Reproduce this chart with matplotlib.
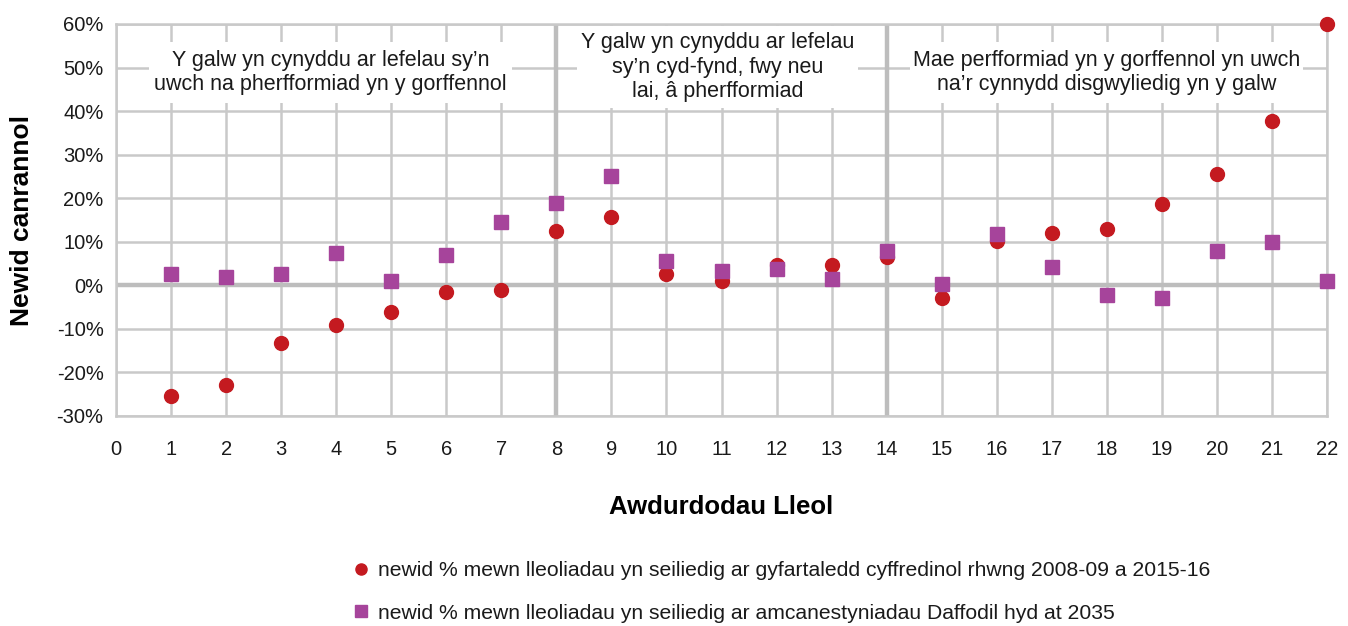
import matplotlib
matplotlib.use("Agg")
import matplotlib.pyplot as plt
from matplotlib.patches import Rectangle

# local authorities 1..22, percentage change
authorities = list(range(1, 23))
avg_change = [-25.5, -22.8, -13.3, -9.2, -6.2, -1.6, -1.1, 12.4, 15.6, 2.5, 1.0,
              4.6, 4.6, 6.5, -3.0, 10.1, 12.0, 12.9, 18.6, 25.5, 37.7, 60.0]
daffodil_change = [2.5, 2.0, 2.5, 7.5, 1.0, 7.0, 14.6, 18.8, 25.0, 5.7, 3.3,
                   3.8, 1.5, 7.8, 0.2, 11.9, 4.3, -2.2, -3.0, 7.8, 10.0, 1.0]
yticks = list(range(-30, 61, 10))
ytick_labels = [f"{v}%" for v in yticks]
xticks = list(range(0, 23))

label_avg = "newid % mewn lleoliadau yn seiliedig ar gyfartaledd cyffredinol rhwng 2008-09 a 2015-16"
label_daf = "newid % mewn lleoliadau yn seiliedig ar amcanestyniadau Daffodil hyd at 2035"
notes = [
    ("Y galw yn cynyddu ar lefelau sy\u2019n\nuwch na pherfformiad yn y gorffennol", 0.6, 7.2, 41.8, 55.8),
    ("Y galw yn cynyddu ar lefelau\nsy\u2019n cyd-fynd, fwy neu\nlai, \u00e2 pherfformiad", 8.37, 13.48, 40.6, 59.6),
    ("Mae perfformiad yn y gorffennol yn uwch\nna\u2019r cynnydd disgwyliedig yn y galw", 14.42, 21.56, 41.8, 55.8),
]

red = "#C41A20"
purple = "#A6449B"
grid = "#C9C9C9"

plt.rcParams.update({"font.family": ["Liberation Sans", "DejaVu Sans"], "text.color": "#1a1a1a"})
fig = plt.figure(figsize=(13.48, 6.26), dpi=100)
ax = fig.add_axes([116/1348, 1 - 416/626, (1327 - 116)/1348, (416 - 24)/626])

ax.set_xlim(0, 22)
ax.set_ylim(-30, 60)
ax.set_xticks(xticks)
ax.set_yticks(yticks)
ax.set_yticklabels(ytick_labels)
ax.tick_params(length=0, labelsize=14.5, colors="#1a1a1a")
ax.tick_params(axis="x", pad=17)
ax.tick_params(axis="y", pad=9)
ax.grid(True, color=grid, lw=1.8, zorder=0)
ax.set_axisbelow(True)
for sp in ax.spines.values():
    sp.set_color(grid)
    sp.set_linewidth(1.8)

# heavier dividers
ax.axhline(0, color="#BDBDBD", lw=3.2, zorder=0.6)
for xv in (8, 14):
    ax.axvline(xv, color="#BDBDBD", lw=3.2, zorder=0.6)

# annotation boxes that blank out the grid
for txt, x0, x1, y0, y1 in notes:
    ax.add_patch(Rectangle((x0, y0), x1 - x0, y1 - y0, facecolor="white",
                           edgecolor="none", zorder=1))
    ax.text((x0 + x1) / 2, (y0 + y1) / 2, txt, ha="center", va="center",
            fontsize=15.5, linespacing=1.2, zorder=2)

ax.plot(authorities, avg_change, ls="none", marker="o", ms=10, color=red,
        mec=red, clip_on=False, zorder=3, label=label_avg)
ax.plot(authorities, daffodil_change, ls="none", marker="s", ms=10.5, color=purple,
        mec=purple, clip_on=False, zorder=4, label=label_daf)

ax.set_xlabel("Awdurdodau Lleol", fontsize=18.5, fontweight="bold", labelpad=26)
ax.set_ylabel("Newid canrannol", fontsize=19, fontweight="bold", labelpad=16)

fig.legend(loc="upper left", bbox_to_anchor=(344/1348, 1 - 553/626), frameon=False,
           fontsize=15.2, handlelength=0.8, handletextpad=0.4, labelspacing=1.1,
           markerscale=0.8, borderaxespad=0)

fig.savefig("out.png", dpi=100)
